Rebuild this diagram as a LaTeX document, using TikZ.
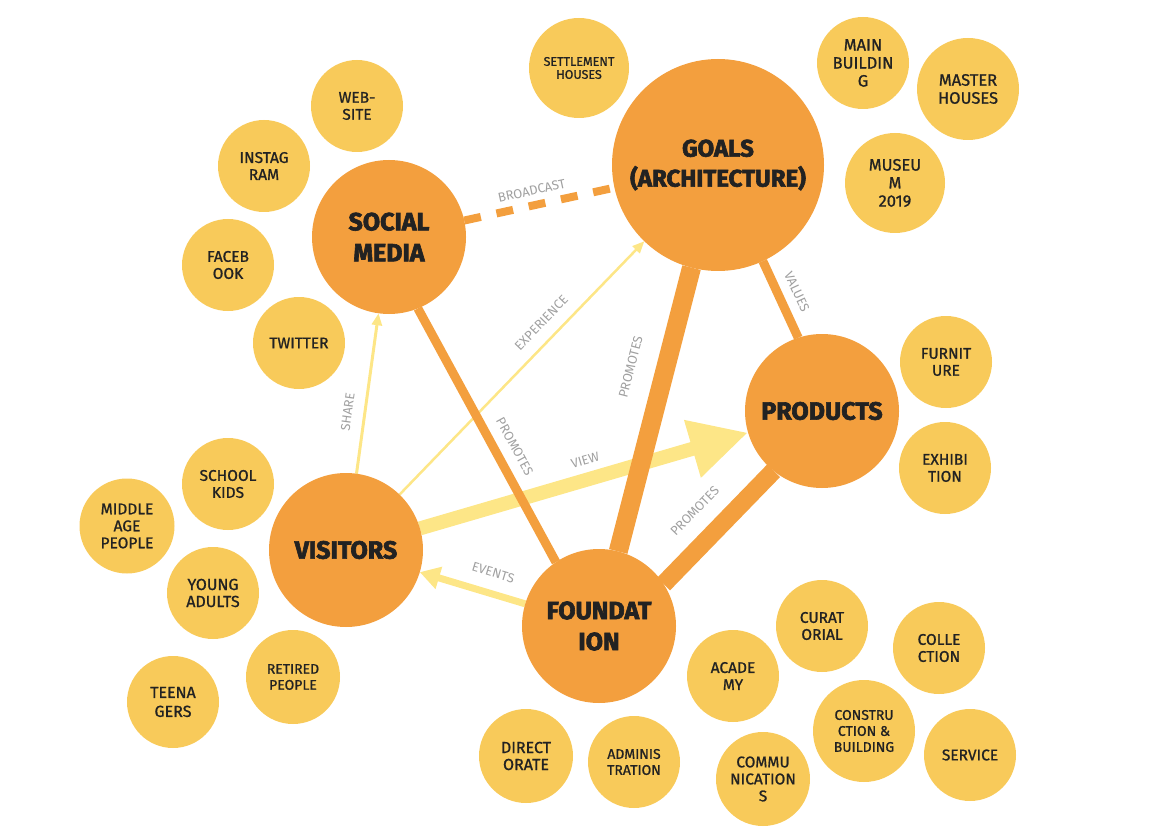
\documentclass[tikz,border=0pt]{standalone}
\usepackage{fontspec}
\setmainfont{Fira Sans}[BoldFeatures={FakeBold=2.5}]
\newfontfamily\leaffont{Fira Sans}[FakeBold=1]
\usetikzlibrary{positioning}
\usetikzlibrary{arrows.meta,backgrounds}
\definecolor{hubcol}{RGB}{243,159,62}
\definecolor{leafcol}{RGB}{248,202,90}
\definecolor{flowcol}{RGB}{253,230,135}
\definecolor{inkcol}{RGB}{34,34,34}
\definecolor{tagcol}{RGB}{160,160,160}
\tikzstyle{hub}=[circle,fill=hubcol,minimum size=154pt,inner sep=0pt,outer sep=0pt,align=center,text=inkcol,font=\fontsize{25}{31}\selectfont\bfseries]
\tikzstyle{leaf}=[circle,fill=leafcol,minimum size=92pt,inner sep=0pt,outer sep=0pt,align=center,text=inkcol,font=\leaffont\fontsize{15.5}{17}\selectfont]
\tikzstyle{link}=[hubcol]
\tikzstyle{flow}=[flowcol,-{Triangle[length=12pt,width=10pt]}]
\tikzstyle{tag}=[sloped,text=tagcol,font=\fontsize{13}{13}\selectfont,inner sep=0pt]
\newcommand{\hubnode}[3][]{
  \node [hub, #1] (#2) {#3}
}
\newcommand{\leafnode}[3][]{
  \node [leaf, #1] (#2) {#3}
}

\begin{document}
\begin{tikzpicture}[x=1pt,y=-1pt,on grid]
  \useasboundingbox (0,0) rectangle (1164,834);
        \hubnode[minimum size=212pt,font=\fontsize{24}{30}\selectfont\bfseries,at={(718,165)}]{goal}{GOALS\\(ARCHITECTURE)};
        \hubnode[at={(389,237)}]{soc}{SOCIAL\\MEDIA};
        \hubnode[at={(822,411)}]{prod}{PRODUCTS};
        \hubnode[at={(346,550)}]{vis}{VISITORS};
        \hubnode[at={(599,626)}]{fnd}{FOUNDAT\\ION};

% social media
    \leafnode[above left=131pt and 32pt of soc]{web}{WEB-\\SITE};
    \leafnode[above left=71pt and 125pt of soc]{insta}{INSTAG\\RAM};
    \leafnode[below left=28pt and 161pt of soc]{face}{FACEB\\OOK};
    \leafnode[below left=106pt and 90pt of soc]{twit}{TWITTER};
% goals
    \leafnode[above left=97pt and 139pt of goal,minimum size=100pt,font=\leaffont\fontsize{12.5}{13}\selectfont]{settle}{SETTLEMENT\\HOUSES};
    \leafnode[above right=102pt and 145pt of goal,font=\leaffont\fontsize{16.5}{18}\selectfont]{mainb}{MAIN\\BUILDIN\\G};
    \leafnode[above right=76pt and 250pt of goal,minimum size=102pt,font=\leaffont\fontsize{16.5}{18}\selectfont]{master}{MASTER\\HOUSES};
    \leafnode[below right=18pt and 177pt of goal,minimum size=100pt,font=\leaffont\fontsize{16.5}{18}\selectfont]{museum}{MUSEU\\M\\2019};
% products
    \leafnode[above right=49pt and 124pt of prod]{furn}{FURNIT\\URE};
    \leafnode[below right=57pt and 123pt of prod]{exhib}{EXHIBI\\TION};
% visitors
    \leafnode[above left=66pt and 118pt of vis]{school}{SCHOOL\\KIDS};
    \leafnode[above left=24pt and 219pt of vis,minimum size=95pt]{middle}{MIDDLE\\AGE\\PEOPLE};
    \leafnode[below left=43pt and 133pt of vis,font=\leaffont\fontsize{16}{17}\selectfont]{young}{YOUNG\\ADULTS};
    \leafnode[below left=127pt and 53pt of vis,minimum size=94pt,font=\leaffont\fontsize{14}{16}\selectfont]{retired}{RETIRED\\PEOPLE};
    \leafnode[below left=152pt and 173pt of vis,font=\leaffont\fontsize{16}{19}\selectfont]{teen}{TEENA\\GERS};
% foundation
    \leafnode[below left=130pt and 73pt of fnd,minimum size=94pt,font=\leaffont\fontsize{16}{17}\selectfont]{direct}{DIRECT\\ORATE};
    \leafnode[below right=136pt and 35pt of fnd,font=\leaffont\fontsize{14}{16}\selectfont]{admin}{ADMINIS\\TRATION};
    \leafnode[below right=50pt and 134pt of fnd]{acad}{ACADE\\MY};
    \leafnode[below right=0pt and 223pt of fnd]{curat}{CURAT\\ORIAL};
    \leafnode[below right=22pt and 340pt of fnd]{coll}{COLLE\\CTION};
    \leafnode[below right=105pt and 265pt of fnd,minimum size=102pt,font=\leaffont\fontsize{14}{16}\selectfont]{constr}{CONSTRU\\CTION \&\\BUILDING};
    \leafnode[below right=129pt and 371pt of fnd]{serv}{SERVICE};
    \leafnode[below right=153pt and 164pt of fnd,minimum size=94pt]{comm}{COMMU\\NICATION\\S};

\begin{scope}[on background layer]
      \draw[flow,line width=3pt] (vis) -- node[tag,above=11pt,pos=0.37]{SHARE} (soc);
      \draw[flow,line width=2.5pt] (vis) -- node[tag,above=11.5pt,pos=0.63]{EXPERIENCE} (goal);
      \draw[flowcol,line width=14pt,-{Triangle[length=58pt,width=56pt]}] (vis) -- node[tag,above=8pt,pos=0.52]{VIEW} (prod);
      \draw[flowcol,line width=7pt,-{Triangle[length=20pt,width=22pt]}] (fnd) -- node[tag,above=12.5pt,pos=0.36]{EVENTS} (vis);
      \draw[link,line width=8pt,dash pattern=on 17pt off 16pt] (soc) -- node[tag,above=6pt,pos=0.47]{BROADCAST} (goal);
      \draw[link,line width=9pt] (soc.-68) -- node[tag,above=10pt,pos=0.58]{PROMOTES} (fnd.124);
      \draw[link,line width=19pt] (fnd) -- node[tag,above=20pt,pos=0.62]{PROMOTES} (goal);
      \draw[link,line width=9pt] (goal.-65) -- node[tag,above=9pt,pos=0.5]{VALUES} (prod.108);
      \draw[link,line width=18pt] (fnd.33) -- node[tag,above=15pt,pos=0.47]{PROMOTES} (prod.231);
\end{scope}
\end{tikzpicture}
\end{document}
